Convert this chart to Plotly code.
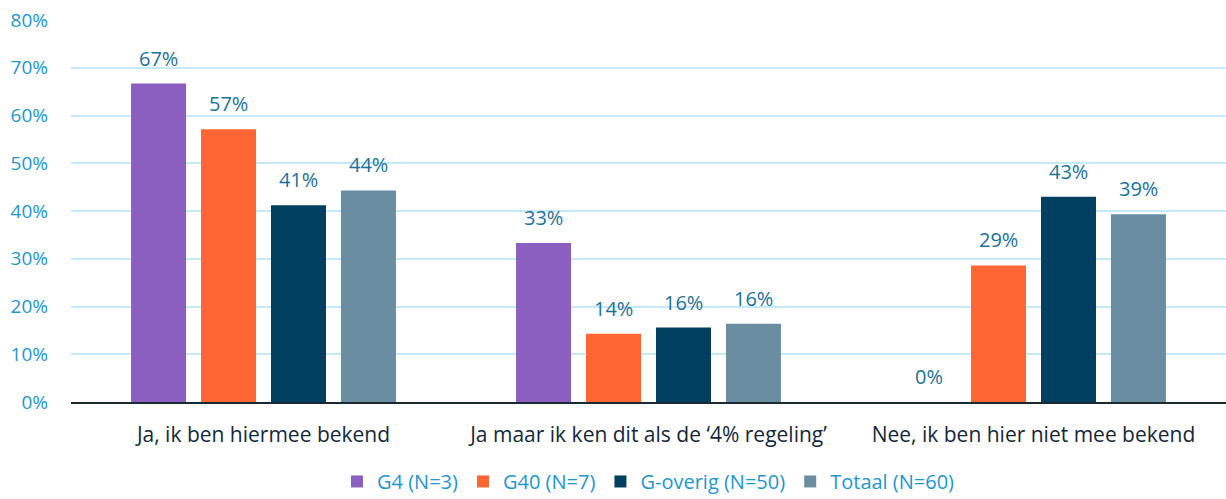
import plotly.graph_objects as go

categories = ["Ja, ik ben hiermee bekend", "Ja maar ik ken dit als de \u20184% regeling\u2019", "Nee, ik ben hier niet mee bekend"]
series_names = ["G4 (N=3)", "G40 (N=7)", "G-overig (N=50)", "Totaal (N=60)"]
g4 = [66.7, 33.3, 0.0]
g40 = [57.1, 14.3, 28.6]
goverig = [41.2, 15.6, 43.0]
totaal = [44.3, 16.4, 39.3]
colors = ["#8B5FC0", "#FF6633", "#003F5F", "#6A8DA1"]
tick_vals = [0, 10, 20, 30, 40, 50, 60, 70, 80]
tick_text = ["0%", "10%", "20%", "30%", "40%", "50%", "60%", "70%", "80%"]

font_family = "'Open Sans', 'Noto Sans', sans-serif"
bargap = 0.273
bargroupgap = 0.214

all_series = [g4, g40, goverig, totaal]
n_series = len(all_series)
xpos = list(range(len(categories)))

fig = go.Figure()
for name, vals, col in zip(series_names, all_series, colors):
    fig.add_trace(go.Bar(
        name=name, x=xpos, y=vals, marker_color=col,
        marker_line_width=0, hoverinfo="skip",
    ))

# value labels above each bar
slot = (1 - bargap) / n_series
annotations = []
for j, vals in enumerate(all_series):
    for i, v in enumerate(vals):
        annotations.append(dict(
            x=i + (j - (n_series - 1) / 2) * slot, y=v, xref="x", yref="y",
            text=f"{round(v):.0f}%", showarrow=False, yanchor="bottom",
            yshift=10, font=dict(color="#1B7299", size=20, family=font_family),
        ))

fig.update_layout(
    barmode="group", bargap=bargap, bargroupgap=bargroupgap,
    width=1226, height=499,
    margin=dict(l=71, r=0, t=20, b=97, autoexpand=False),
    plot_bgcolor="white", paper_bgcolor="white",
    font=dict(family=font_family),
    showlegend=True,
    legend=dict(orientation="h", x=0.5, xanchor="center", y=-0.208, yanchor="middle",
                font=dict(color="#1E96CE", size=20, family=font_family),
                traceorder="normal"),
    annotations=annotations,
)
fig.update_yaxes(range=[0, 80], tickvals=tick_vals, ticktext=tick_text,
                 showgrid=True, gridcolor="#C6E9F8", gridwidth=2,
                 zeroline=False, showline=False, automargin=False,
                 tickfont=dict(color="#1E96CE", size=19, family=font_family),
                 ticks="", ticklabelstandoff=22)
fig.update_xaxes(range=[-0.5, len(categories) - 0.5], tickvals=xpos, ticktext=categories,
                 showline=True, linecolor="#1A2A35", linewidth=1.5, automargin=False,
                 showgrid=False, zeroline=False,
                 tickfont=dict(color="#14283A", size=21, family=font_family),
                 ticks="", ticklabelstandoff=13)

fig.write_html("out.html", config={"displayModeBar": False},
               post_script="document.body.style.margin='0';document.body.style.padding='0';")
